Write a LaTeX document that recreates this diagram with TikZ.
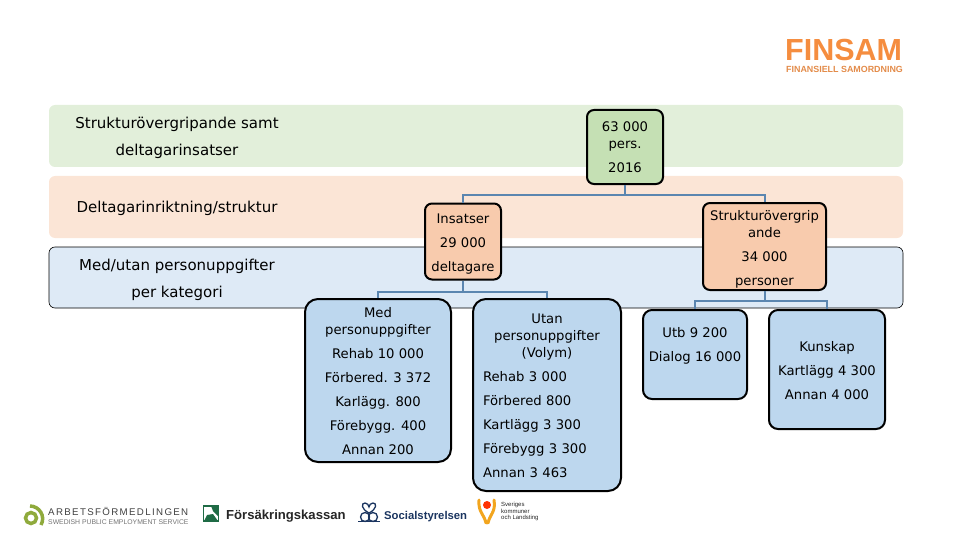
\documentclass[tikz,border=0pt]{standalone}
\usepackage{fontspec}
\setmainfont{DejaVu Sans}
\newfontfamily\logofont{Liberation Sans}
\newfontfamily\spacedfont[LetterSpace=14]{Liberation Sans}
\usepackage{tikz}
\usetikzlibrary{positioning, calc}
\definecolor{bandgreen}{HTML}{E2EFDA}
\definecolor{bandorange}{HTML}{FBE5D6}
\definecolor{bandblue}{HTML}{DEEAF6}
\definecolor{boxgreen}{HTML}{C5E0B4}
\definecolor{boxorange}{HTML}{F8CBAD}
\definecolor{boxblue}{HTML}{BDD7EE}
\definecolor{linkblue}{HTML}{5B86B0}
\definecolor{finsam}{HTML}{F58D3F}
\definecolor{afgreen}{HTML}{8FAA3C}
\definecolor{fkgreen}{HTML}{1F6B45}
\definecolor{ssnavy}{HTML}{1B3560}
\definecolor{sklorange}{HTML}{F2A51E}
\newcommand{\topgap}[1]{\rule{0pt}{#1}}
\begin{document}
\begin{tikzpicture}[
    x=1pt, y=-1pt,
    font=\fontsize{13.2}{17}\selectfont,
    band/.style={rectangle, rounded corners=6pt, minimum width=854pt, minimum height=62pt, inner sep=0pt},
    cat/.style={align=center, inner sep=0pt, font=\fontsize{15}{17}\selectfont},
    orgbox/.style={rectangle, draw=black, line width=2pt, rounded corners=7pt, align=center, inner sep=0pt},
    roundbox/.style={orgbox, rounded corners=13pt},
    link/.style={draw=linkblue, line width=2pt},
    logotext/.style={inner sep=0pt, anchor=west, font=\logofont\bfseries}
]
\useasboundingbox (0,0) rectangle (960,540);
% bands
\node[band, fill=bandgreen] (bandtop) at (476,136) {};
\node[band, fill=bandorange] (bandmid) at (476,207) {};
\node[band, fill=bandblue, draw=black, line width=0.6pt, minimum height=61pt] (bandlow) at (476,277.5) {};
\node[cat] (cattop) at (177,137.5) {Strukturövergripande samt\\[10pt]deltagarinsatser};
\node[cat] (catmid) at (177,208) {Deltagarinriktning/struktur};
\node[cat] (catlow) at (177,279.5) {Med/utan personuppgifter\\[10pt]per kategori};
% boxes
\node[orgbox, fill=boxgreen, minimum width=76pt, minimum height=74pt] (total) at (625,147) {63 000\\pers.\\[7pt]2016};
\node[orgbox, fill=boxorange, minimum width=76pt, minimum height=76pt] (insatser) at (463,241.5) {\topgap{14pt}Insatser\\[7pt]29 000\\[7pt]deltagare};
\node[orgbox, fill=boxorange, minimum width=123pt, minimum height=87pt] (strukt) at (764.5,246.5) {\topgap{16pt}Strukturövergrip\\ande\\[7pt]34 000\\[7pt]personer};
\node[roundbox, fill=boxblue, minimum width=146pt, minimum height=163pt] (med) at (378,380.5) {\topgap{12pt}Med\\personuppgifter\\[7pt]Rehab 10 000\\[7pt]Förbered. 3 372\\[7pt]Karlägg. 800\\[7pt]Förebygg. 400\\[7pt]Annan 200};
\node[roundbox, fill=boxblue, minimum width=148pt, minimum height=192pt, text width=128pt, align=left] (utan) at (547,395) {\topgap{12pt}\makebox[128pt]{Utan}\\\makebox[128pt]{personuppgifter}\\\makebox[128pt]{(Volym)}\\[7pt]Rehab 3 000\\[7pt]Förbered 800\\[7pt]Kartlägg 3 300\\[7pt]Förebygg 3 300\\[7pt]Annan 3 463};
\node[roundbox, rounded corners=9pt, fill=boxblue, minimum width=104pt, minimum height=89pt] (utb) at (695,354.5) {\topgap{15pt}Utb 9 200\\[7pt]Dialog 16 000\\[2pt]\strut};
\node[roundbox, rounded corners=9pt, fill=boxblue, minimum width=116pt, minimum height=119pt] (kunskap) at (827,369.5) {\topgap{12pt}Kunskap\\[7pt]Kartlägg 4 300\\[7pt]Annan 4 000};
% connectors
\draw[link] (total.south) -- ++(0,10) -| (insatser.north);
\draw[link] (total.south) -- ++(0,10) -| (strukt.north);
\draw[link] (insatser.south) -- ++(0,11) -| (med.north);
\draw[link] (insatser.south) -- ++(0,11) -| (utan.north);
\draw[link] (strukt.south) -- ++(0,10) -| (utb.north);
\draw[link] (strukt.south) -- ++(0,10) -| (kunskap.north);
% logos
\node[logotext, text=finsam, font=\logofont\bfseries\fontsize{30.5}{31}\selectfont] (finsamlogo) at (785,50.5) {FINSAM};
\node[logotext, text=finsam!85!gray, font=\logofont\bfseries\fontsize{8.9}{9}\selectfont] (finsamsub) at (786,69.5) {FINANSIELL SAMORDNING};
\draw[afgreen, line width=3.5pt] (31,518) circle (5.5);
\draw[afgreen, line width=3.5pt] (30,506) .. controls (39,506) and (46,516) .. (41,525);
\node[logotext, text=black!75, font=\spacedfont\fontsize{9.7}{10}\selectfont] (aflogo) at (48,511) {ARBETSFÖRMEDLINGEN};
\node[logotext, text=black!55, font=\logofont\fontsize{6.85}{7}\selectfont] (afsub) at (48,522) {SWEDISH PUBLIC EMPLOYMENT SERVICE};
\node[draw=fkgreen, line width=1.5pt, fill=white, minimum width=15pt, minimum height=15pt, inner sep=0pt] (fkicon) at (211,513.5) {};
\fill[fkgreen] (211,506) -- (218,506) -- (218,516) -- (213,511) -- cycle;
\fill[fkgreen] (204,521) -- (207,515) -- (213,514) -- (218,521) -- cycle;
\node[logotext, text=black!85, font=\logofont\bfseries\fontsize{13.1}{13}\selectfont] (fklogo) at (226,516) {Försäkringskassan};
\draw[ssnavy, line width=1.3pt] (365,503) .. controls (361,503) and (361,509) .. (369,513) .. controls (377,509) and (377,503) .. (373,503) .. controls (371,503) and (369,505) .. (369,507) .. controls (369,505) and (367,503) .. (365,503);
\draw[ssnavy, line width=1.3pt] (365,517) circle (4.5) (373,517) circle (4.5);
\draw[ssnavy, line width=1.3pt] (358,521.5) -- (380,521.5);
\node[logotext, text=ssnavy, font=\logofont\bfseries\fontsize{11.3}{12}\selectfont] (sslogo) at (384,517) {Socialstyrelsen};
\draw[sklorange, line width=3pt, line cap=round] (479,500) .. controls (478,512) and (484,514) .. (486,523);
\draw[sklorange, line width=3pt, line cap=round] (494,500) .. controls (496,512) and (490,514) .. (488,523);
\fill[red!60!orange] (487,505) circle (4);
\node[logotext, cat, align=left, text=black!85, font=\logofont\fontsize{6}{6.6}\selectfont, anchor=west] (skllogo) at (501,511.5) {Sveriges\\kommuner\\och Landsting};
\end{tikzpicture}
\end{document}
